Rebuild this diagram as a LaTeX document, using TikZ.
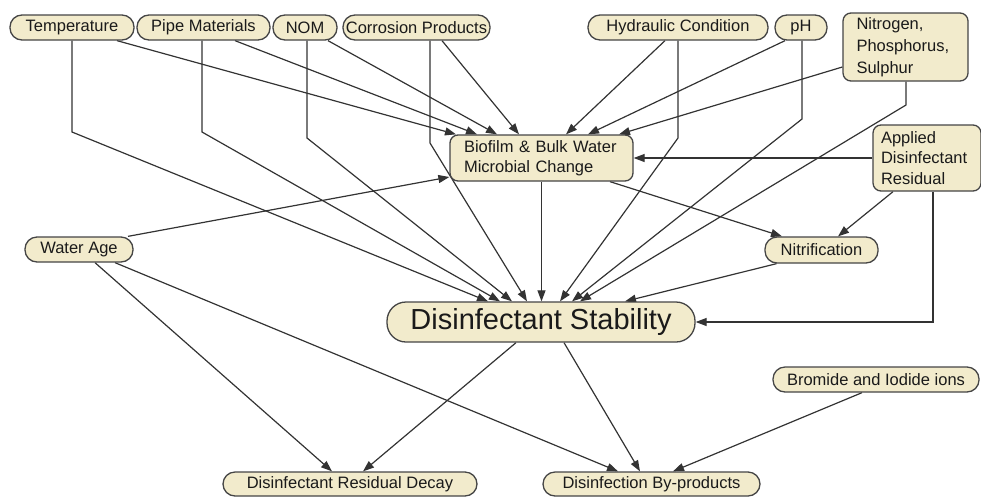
\documentclass[tikz,border=0pt]{standalone}
\usepackage{fontspec}
\setmainfont{Liberation Sans}
\usetikzlibrary{arrows.meta,backgrounds}
\definecolor{boxfill}{HTML}{F2EBCC}
\definecolor{boxline}{HTML}{454545}
\definecolor{edgecol}{HTML}{333333}
\definecolor{txt}{HTML}{1A1A1A}
\begin{document}
\begin{tikzpicture}[x=1pt,y=-1pt,
  pill/.style={draw=boxline, line width=1.3pt, fill=boxfill, rounded corners=12pt,
    minimum height=25pt, inner sep=0pt, text=txt, font=\fontsize{16.5}{20}\selectfont},
  rbox/.style={draw=boxline, line width=1.3pt, fill=boxfill, rounded corners=8pt,
    inner ysep=0pt, align=left, text=txt, font=\fontsize{16.5}{20.5}\selectfont},
  conn/.style={draw=edgecol, line width=1.2pt, -{Triangle[length=11pt,width=8pt]}}]
\useasboundingbox (0,0) rectangle (981,496);

% top row
\node[pill, minimum width=124pt] (temp) at (72,27.5) {Temperature};
\node[pill, minimum width=133pt] (pipe) at (203.5,27.5) {Pipe Materials};
\node[pill, minimum width=64pt] (nom) at (305,27.5) {NOM};
\node[pill, minimum width=147pt] (corr) at (416.5,27.5) {Corrosion Products};
\node[pill, minimum width=180pt] (hyd) at (678,27.5) {Hydraulic Condition};
\node[pill, minimum width=52pt] (ph) at (801,27.5) {pH};
\node[rbox, text width=98pt, inner xsep=13.5pt, minimum height=68pt, font=\fontsize{16.5}{22}\selectfont] (nit) at (905.5,47) {Nitrogen,\\Phosphorus,\\Sulphur};

% middle
\node[rbox, text width=155pt, inner xsep=14pt, minimum height=46pt] (bio) at (541.5,158) {Biofilm \& Bulk Water\\Microbial Change};
\node[rbox, text width=92pt, inner xsep=8pt, minimum height=66pt] (app) at (927,158) {Applied\\Disinfectant\\Residual};
\node[pill, minimum width=108pt] (wa) at (79,249.5) {Water Age};
\node[pill, minimum width=113pt, minimum height=26pt] (nitr) at (821.5,250) {Nitrification};
\node[pill, minimum width=308pt, minimum height=40pt, rounded corners=19pt, font=\fontsize{29}{32}\selectfont] (ds) at (541,322) {Disinfectant Stability};

% bottom
\node[pill, minimum width=206pt] (br) at (876,379.5) {Bromide and Iodide ions};
\node[pill, minimum width=254pt, minimum height=24pt] (decay) at (350,484) {Disinfectant Residual Decay};
\node[pill, minimum width=217pt, minimum height=24pt] (dbp) at (651.5,484) {Disinfection By-products};

% elbows
\coordinate (ktemp) at (72,132);
\coordinate (kpipe) at (202,132);
\coordinate (knom) at (307,138);
\coordinate (kcorr) at (430,143);
\coordinate (khyd) at (678,138);
\coordinate (kph) at (802,119);
\coordinate (knit) at (906,105);
\coordinate (kapp) at ([xshift=6pt]app.south);

\begin{scope}[on background layer]
% into biofilm
\draw[conn] ([xshift=45pt]temp.south) -- ([xshift=-85.5pt]bio.north);
\draw[conn] ([xshift=31.5pt]pipe.south) -- ([xshift=-64.5pt]bio.north);
\draw[conn] ([xshift=23pt]nom.south) -- ([xshift=-44.5pt]bio.north);
\draw[conn] ([xshift=25.5pt]corr.south) -- ([xshift=-22.5pt]bio.north);
\draw[conn] ([xshift=-13pt]hyd.south) -- ([xshift=24.5pt]bio.north);
\draw[conn] ([xshift=-16pt]ph.south) -- ([xshift=46.5pt]bio.north);
\draw[conn] ([yshift=-20pt]nit.west) -- ([xshift=77.5pt]bio.north);
\draw[conn] ([xshift=49pt]wa.north) -- ([yshift=-19pt]bio.west);
\draw[conn] (app.west) -- (bio.east);

% into disinfectant stability
\draw[conn] (temp.south) -- (ktemp) -- ([xshift=-53pt]ds.north);
\draw[conn] ([xshift=-1.5pt]pipe.south) -- (kpipe) -- ([xshift=-41pt]ds.north);
\draw[conn] ([xshift=2pt]nom.south) -- (knom) -- ([xshift=-29pt]ds.north);
\draw[conn] ([xshift=13.5pt]corr.south) -- (kcorr) -- ([xshift=-14pt]ds.north);
\draw[conn] (bio.south) -- (bio.south |- ds.north);
\draw[conn] (hyd.south) -- (khyd) -- ([xshift=19pt]ds.north);
\draw[conn] ([xshift=1pt]ph.south) -- (kph) -- ([xshift=31pt]ds.north);
\draw[conn] ([xshift=0.5pt]nit.south) -- (knit) -- ([xshift=39pt]ds.north);
\draw[conn] ([xshift=-45pt]nitr.south) -- ([xshift=84pt]ds.north);
\draw[conn] (kapp) |- (ds.east);

% nitrification
\draw[conn] ([xshift=68.5pt]bio.south) -- ([xshift=-39.5pt]nitr.north);
\draw[conn] ([xshift=-34pt]app.south) -- ([xshift=16.5pt]nitr.north);

% bottom
\draw[conn] ([xshift=16pt]wa.south) -- ([xshift=-18pt]decay.north);
\draw[conn] ([xshift=36pt]wa.south) -- ([xshift=-33.5pt]dbp.north);
\draw[conn] ([xshift=-25pt]ds.south) -- ([xshift=13pt]decay.north);
\draw[conn] ([xshift=23pt]ds.south) -- ([xshift=-11.5pt]dbp.north);
\draw[conn] ([xshift=-14pt]br.south) -- ([xshift=21.5pt]dbp.north);
\end{scope}
\end{tikzpicture}
\end{document}
